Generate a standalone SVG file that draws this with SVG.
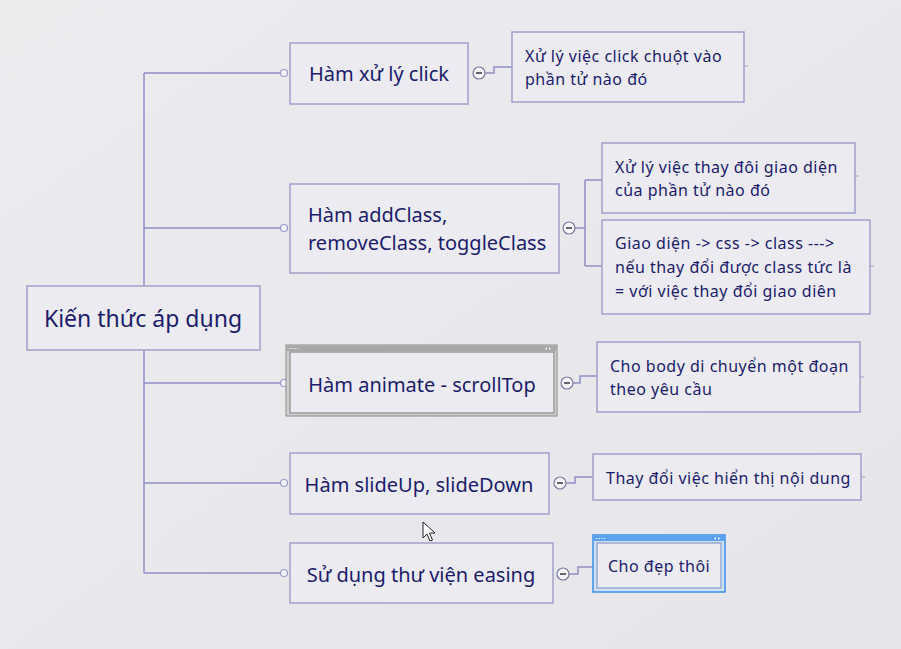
<svg xmlns="http://www.w3.org/2000/svg" width="901" height="649" viewBox="0 0 901 649">
<defs>
<linearGradient id="bg" x1="0" y1="0" x2="1" y2="1">
<stop offset="0" stop-color="#ececef"/>
<stop offset="1" stop-color="#e6e6ea"/>
</linearGradient>
<style>
.box{fill:#ebebf1;stroke:#a0a0cc;stroke-width:1.5}
.ln{fill:none;stroke:#8f8fc6;stroke-width:1.5}
.tk{fill:none;stroke:#a0a0cc;stroke-width:1}
.dot{fill:#f4f4f8;stroke:#9a9ac8;stroke-width:1.2}
.col{fill:#f6f6fa;stroke:#7a7aa0;stroke-width:1.2}
.minus{stroke:#333344;stroke-width:1.5}
text{font-family:"Comic Sans MS","Noto Sans","DejaVu Sans",sans-serif;fill:#1c1c6a}
.t1{font-size:20px}
.t2{font-size:16px;letter-spacing:0.5px}
.root{font-size:23px}
</style>
</defs>
<rect width="901" height="649" fill="url(#bg)"/>

<g id="connectors">
<path class="ln" d="M144 73 V573"/>
<path class="ln" d="M144 73 H284 M144 228 H284 M144 383 H284 M144 483 H284 M144 573 H284"/>
<path class="ln" d="M485 73 H494 V67 H512"/>
<path class="ln" d="M575 228 H585 M585 180 V266 M585 180 H602 M585 266 H602"/>
<path class="ln" d="M573 383 H580 V376 H597"/>
<path class="ln" d="M566 483 H575 V477 H593"/>
<path class="ln" d="M569 574 H578 V567 H593"/>
<circle class="dot" cx="284" cy="73" r="3.5"/>
<circle class="dot" cx="284" cy="228" r="3.5"/>
<circle class="dot" cx="284" cy="383" r="3.5"/>
<circle class="dot" cx="284" cy="483" r="3.5"/>
<circle class="dot" cx="284" cy="573" r="3.5"/>
<g id="collapse1"><circle class="col" cx="479" cy="73" r="6"/><path class="minus" d="M476 73 H482"/></g>
<g id="collapse2"><circle class="col" cx="569" cy="228" r="6"/><path class="minus" d="M566 228 H572"/></g>
<g id="collapse3"><circle class="col" cx="567" cy="383" r="6"/><path class="minus" d="M564 383 H570"/></g>
<g id="collapse4"><circle class="col" cx="560" cy="483" r="6"/><path class="minus" d="M557 483 H563"/></g>
<g id="collapse5"><circle class="col" cx="563" cy="574" r="6"/><path class="minus" d="M560 574 H566"/></g>
<path class="tk" d="M744 66 H748 M855 176 H859 M870 266 H874 M860 377 H864 M861 477 H865"/>
</g>

<g id="root">
<rect class="box" x="27" y="286" width="233" height="64"/>
<text class="root" x="143" y="327" text-anchor="middle">Kiến thức áp dụng</text>
</g>

<g id="node1">
<rect class="box" x="290" y="43" width="178" height="61"/>
<text class="t1" x="379" y="81" text-anchor="middle">Hàm xử lý click</text>
</g>

<g id="node2">
<rect class="box" x="290" y="184" width="269" height="89"/>
<text class="t1" x="308" y="222">Hàm addClass,</text>
<text class="t1" x="308" y="250">removeClass, toggleClass</text>
</g>

<g id="node3">
<rect x="286" y="345" width="271" height="71" fill="#d0d0d0" stroke="#8a8a8a" stroke-width="1"/>
<rect x="287" y="346" width="269" height="5" fill="#a8a8a8"/>
<path d="M289 348.5 h1.2 m1.5 0 h1.2 m1.5 0 h1.2 m1.5 0 h1.2" stroke="#f0f0f0" stroke-width="1.2"/>
<path d="M545 348.5 l2 -1.5 v3 z M551 348.5 l-2 -1.5 v3 z" fill="#eeeeee"/>
<rect x="290" y="352" width="264" height="61" fill="#ebebf1" stroke="#9a9a9a" stroke-width="1.5"/>
<text class="t1" x="422" y="392" text-anchor="middle">Hàm animate - scrollTop</text>
</g>

<g id="node4">
<rect class="box" x="290" y="453" width="259" height="61"/>
<text class="t1" x="419" y="492" text-anchor="middle">Hàm slideUp, slideDown</text>
</g>

<g id="node5">
<rect class="box" x="290" y="543" width="263" height="60"/>
<text class="t1" x="421" y="582" text-anchor="middle">Sử dụng thư viện easing</text>
</g>

<g id="leaf1">
<rect class="box" x="512" y="32" width="232" height="70"/>
<text class="t2" x="525" y="62">Xử lý việc click chuột vào</text>
<text class="t2" x="525" y="85">phần tử nào đó</text>
</g>

<g id="leaf2a">
<rect class="box" x="602" y="143" width="253" height="70"/>
<text class="t2" x="615" y="173">Xử lý việc thay đôi giao diện</text>
<text class="t2" x="615" y="196">của phần tử nào đó</text>
</g>

<g id="leaf2b">
<rect class="box" x="602" y="220" width="268" height="94"/>
<text class="t2" x="615" y="249">Giao diện -&gt; css -&gt; class ---&gt;</text>
<text class="t2" x="615" y="273">nếu thay đổi được class tức là</text>
<text class="t2" x="615" y="297">= với việc thay đổi giao diên</text>
</g>

<g id="leaf3">
<rect class="box" x="597" y="342" width="263" height="70"/>
<text class="t2" x="610" y="372">Cho body di chuyển một đoạn</text>
<text class="t2" x="610" y="395">theo yêu cầu</text>
</g>

<g id="leaf4">
<rect class="box" x="593" y="454" width="268" height="46"/>
<text class="t2" x="606" y="484">Thay đổi việc hiển thị nội dung</text>
</g>

<g id="leaf5">
<rect x="593" y="535" width="132" height="57" fill="#cfe0f7" stroke="#3b8ee8" stroke-width="1.5"/>
<rect x="594" y="536" width="130" height="5" fill="#5aa2ef"/>
<path d="M596 538.5 h1.2 m1.5 0 h1.2 m1.5 0 h1.2 m1.5 0 h1.2" stroke="#ffffff" stroke-width="1.2"/>
<path d="M714 538.5 l2 -1.5 v3 z M720 538.5 l-2 -1.5 v3 z" fill="#ffffff"/>
<rect x="597" y="543" width="124" height="45" fill="#ebebf1" stroke="#9aaad0" stroke-width="1.5"/>
<text class="t2" x="608" y="572">Cho đẹp thôi</text>
</g>

<g id="cursor">
<path d="M423 522 V538 L427 534 L430 541 L432.5 540 L429.5 533 L435 533 Z" fill="#ffffff" stroke="#222222" stroke-width="1"/>
</g>
</svg>
